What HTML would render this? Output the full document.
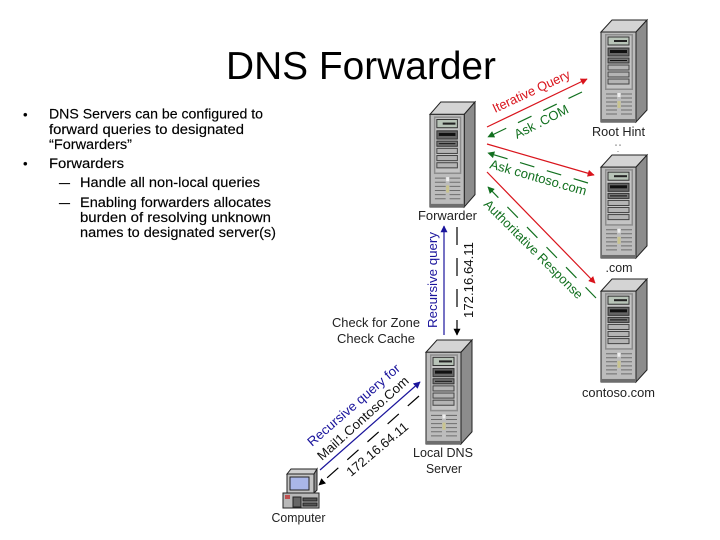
<!DOCTYPE html>
<html>
<head>
<meta charset="utf-8">
<style>
html,body{margin:0;padding:0;background:#fff;width:720px;height:540px;overflow:hidden}
svg{display:block}
text{font-family:"Liberation Sans",sans-serif}
</style>
</head>
<body>
<svg width="720" height="540" viewBox="0 0 720 540" xmlns="http://www.w3.org/2000/svg">
<defs>
<symbol id="srv" viewBox="0 0 46 103" overflow="visible" preserveAspectRatio="none">
  <polygon points="0,12 11,0 46,0 35,12" fill="#d4d4d4" stroke="#222" stroke-width="1"/>
  <polygon points="35,12 46,0 46,90 35,102" fill="#8c8c8c" stroke="#222" stroke-width="1"/>
  <rect x="0" y="12" width="35" height="90" fill="#bcbcbc" stroke="#222" stroke-width="1"/>
  <rect x="4" y="14" width="28" height="56" fill="#8d8d8d"/>
  <rect x="5.5" y="15.5" width="25" height="53" fill="#c4c4c4"/>
  <rect x="7" y="17" width="21" height="8" fill="#b8c4b8" stroke="#333"/>
  <rect x="13" y="20" width="13" height="2" fill="#222"/>
  <rect x="7" y="28" width="21" height="8" fill="#666" stroke="#333"/>
  <rect x="9" y="30" width="17" height="3" fill="#111"/>
  <rect x="7" y="38" width="21" height="5" fill="#777" stroke="#333"/>
  <rect x="9" y="40" width="17" height="1" fill="#111"/>
  <rect x="7" y="45" width="21" height="5" fill="#b4b4b4" stroke="#444"/>
  <rect x="7" y="52" width="21" height="5" fill="#b4b4b4" stroke="#444"/>
  <rect x="7" y="59" width="21" height="5" fill="#b4b4b4" stroke="#444"/>
  <g stroke="#6e6e6e" stroke-width="1">
    <path d="M5 74H16M20 74H31M5 78H16M20 78H31M5 82H16M20 82H31M5 86H16M20 86H31M5 90H16M20 90H31M5 94H16M20 94H31"/>
  </g>
  <rect x="16.5" y="73" width="3" height="4" fill="#eee"/>
  <rect x="16.5" y="81" width="3" height="7" fill="#c9c48f"/>
  <rect x="0" y="99" width="35" height="3" fill="#6e6e6e"/>
</symbol>
<marker id="r" viewBox="0 0 10 10" refX="9" refY="5" markerWidth="7" markerHeight="7" orient="auto-start-reverse" markerUnits="userSpaceOnUse"><path d="M0 0L10 5L0 10z" fill="#d9141c"/></marker>
<marker id="g" viewBox="0 0 10 10" refX="9" refY="5" markerWidth="7" markerHeight="7" orient="auto-start-reverse" markerUnits="userSpaceOnUse"><path d="M0 0L10 5L0 10z" fill="#12701f"/></marker>
<marker id="b" viewBox="0 0 10 10" refX="9" refY="5" markerWidth="7" markerHeight="7" orient="auto-start-reverse" markerUnits="userSpaceOnUse"><path d="M0 0L10 5L0 10z" fill="#1a149c"/></marker>
<marker id="k" viewBox="0 0 10 10" refX="9" refY="5" markerWidth="7" markerHeight="7" orient="auto-start-reverse" markerUnits="userSpaceOnUse"><path d="M0 0L10 5L0 10z" fill="#000"/></marker>
</defs>

<!-- Title -->
<text x="226" y="79" font-size="39" fill="#000" textLength="270" lengthAdjust="spacingAndGlyphs">DNS Forwarder</text>

<!-- Body -->
<g font-size="13.5" fill="#000" stroke="#000" stroke-width="0.15">
  <text x="23" y="119" font-size="13">•</text>
  <text x="49" y="118.5" textLength="214" lengthAdjust="spacingAndGlyphs">DNS Servers can be configured to</text>
  <text x="49" y="134" textLength="195" lengthAdjust="spacingAndGlyphs">forward queries to designated</text>
  <text x="49" y="149" textLength="83" lengthAdjust="spacingAndGlyphs">“Forwarders”</text>
  <text x="23" y="168" font-size="13">•</text>
  <text x="49" y="168" textLength="75" lengthAdjust="spacingAndGlyphs">Forwarders</text>
  <text x="59" y="187" textLength="11" lengthAdjust="spacingAndGlyphs">–</text>
  <text x="80" y="187" textLength="180" lengthAdjust="spacingAndGlyphs">Handle all non-local queries</text>
  <text x="59" y="207" textLength="11" lengthAdjust="spacingAndGlyphs">–</text>
  <text x="80" y="207" textLength="191" lengthAdjust="spacingAndGlyphs">Enabling forwarders allocates</text>
  <text x="80" y="222" textLength="191" lengthAdjust="spacingAndGlyphs">burden of resolving unknown</text>
  <text x="80" y="237" textLength="196" lengthAdjust="spacingAndGlyphs">names to designated server(s)</text>
</g>

<!-- Servers -->
<use href="#srv" x="601" y="20" width="46" height="103"/>
<use href="#srv" x="601" y="155" width="46" height="104"/>
<use href="#srv" x="601" y="279" width="46" height="104"/>
<use href="#srv" x="430" y="102" width="45" height="106"/>
<use href="#srv" x="426" y="340" width="46" height="105"/>

<!-- Computer -->
<g stroke="#222" stroke-width="1">
  <polygon points="287,474 291,469 317,469 314,474" fill="#d0d0d0"/>
  <polygon points="314,474 317,469 317,490 314,493" fill="#8c8c8c"/>
  <rect x="287" y="474" width="27" height="19" fill="#c4c4c4"/>
  <rect x="290" y="477" width="19" height="13" fill="#a9b6e8"/>
  <polygon points="283,493 319,493 319,508 283,508" fill="#b8b8b8"/>
  <rect x="293" y="497" width="8" height="10" fill="#666"/>
  <rect x="303" y="498" width="14" height="3" fill="#555"/>
  <rect x="303" y="503" width="14" height="3" fill="#555"/>
</g>
<rect x="285" y="495" width="5" height="4" fill="#c05050"/>

<!-- Server labels -->
<g font-size="12.5" fill="#222">
  <text x="618.5" y="136" text-anchor="middle" textLength="53" lengthAdjust="spacingAndGlyphs">Root Hint</text>
  <text x="619" y="272" text-anchor="middle" textLength="27" lengthAdjust="spacingAndGlyphs">.com</text>
  <text x="618.5" y="397" text-anchor="middle" textLength="73" lengthAdjust="spacingAndGlyphs">contoso.com</text>
  <text x="447.5" y="220" text-anchor="middle" textLength="59" lengthAdjust="spacingAndGlyphs">Forwarder</text>
  <text x="376" y="327" text-anchor="middle" textLength="88" lengthAdjust="spacingAndGlyphs">Check for Zone</text>
  <text x="376" y="343" text-anchor="middle" textLength="78" lengthAdjust="spacingAndGlyphs">Check Cache</text>
  <text x="443" y="457" text-anchor="middle" textLength="60" lengthAdjust="spacingAndGlyphs">Local DNS</text>
  <text x="444" y="473" text-anchor="middle" textLength="36" lengthAdjust="spacingAndGlyphs">Server</text>
  <text x="298.5" y="522" text-anchor="middle" textLength="54" lengthAdjust="spacingAndGlyphs">Computer</text>
</g>
<text x="618" y="149" font-size="6" fill="#555" text-anchor="middle">" "</text>
<rect x="617.5" y="151" width="1" height="1" fill="#888"/>

<!-- Red arrows -->
<g stroke="#d9141c" stroke-width="1.2" fill="none">
  <line x1="487" y1="127" x2="587" y2="79" marker-end="url(#r)"/>
  <line x1="487" y1="144" x2="594" y2="175" marker-end="url(#r)"/>
  <line x1="487" y1="172" x2="595" y2="283" marker-end="url(#r)"/>
</g>
<!-- Green arrows -->
<g stroke="#12701f" stroke-width="1.2" fill="none" stroke-dasharray="15 13">
  <line x1="582" y1="92" x2="488" y2="137" marker-end="url(#g)"/>
  <line x1="588" y1="183" x2="488" y2="153" marker-end="url(#g)"/>
  <line x1="596" y1="298" x2="488" y2="187" marker-end="url(#g)"/>
</g>
<!-- Blue arrows -->
<g stroke="#1a149c" stroke-width="1.2" fill="none">
  <line x1="444" y1="335" x2="444" y2="226" marker-end="url(#b)"/>
  <line x1="320" y1="470" x2="420" y2="382" marker-end="url(#b)"/>
</g>
<!-- Black arrows -->
<g stroke="#000" stroke-width="1.2" fill="none">
  <line x1="457" y1="227" x2="457" y2="335" stroke-dasharray="18 13" marker-end="url(#k)"/>
  <line x1="419" y1="396" x2="319" y2="485" stroke-dasharray="15 12" marker-end="url(#k)"/>
</g>

<!-- Connector labels -->
<text transform="translate(495,113) rotate(-25)" font-size="13" fill="#d9141c" textLength="84" lengthAdjust="spacingAndGlyphs">Iterative Query</text>
<text transform="translate(517,139) rotate(-27)" font-size="13" fill="#12701f" textLength="59" lengthAdjust="spacingAndGlyphs">Ask .COM</text>
<text transform="translate(489,168) rotate(16)" font-size="13" fill="#12701f" textLength="100" lengthAdjust="spacingAndGlyphs">Ask contoso.com</text>
<text transform="translate(483,205) rotate(45)" font-size="13" fill="#12701f" textLength="134" lengthAdjust="spacingAndGlyphs">Authoritative Response</text>
<text transform="translate(437,328) rotate(-90)" font-size="13" fill="#1a149c" textLength="96" lengthAdjust="spacingAndGlyphs">Recursive query</text>
<text transform="translate(473,318) rotate(-90)" font-size="13" fill="#111" textLength="76" lengthAdjust="spacingAndGlyphs">172.16.64.11</text>
<text transform="translate(312,447) rotate(-41)" font-size="13" fill="#1a149c" textLength="118" lengthAdjust="spacingAndGlyphs">Recursive query for</text>
<text transform="translate(322,461) rotate(-42)" font-size="13" fill="#111" textLength="118" lengthAdjust="spacingAndGlyphs">Mail1.Contoso.Com</text>
<text transform="translate(351,477) rotate(-40)" font-size="13" fill="#111" textLength="76" lengthAdjust="spacingAndGlyphs">172.16.64.11</text>
</svg>
</body>
</html>
